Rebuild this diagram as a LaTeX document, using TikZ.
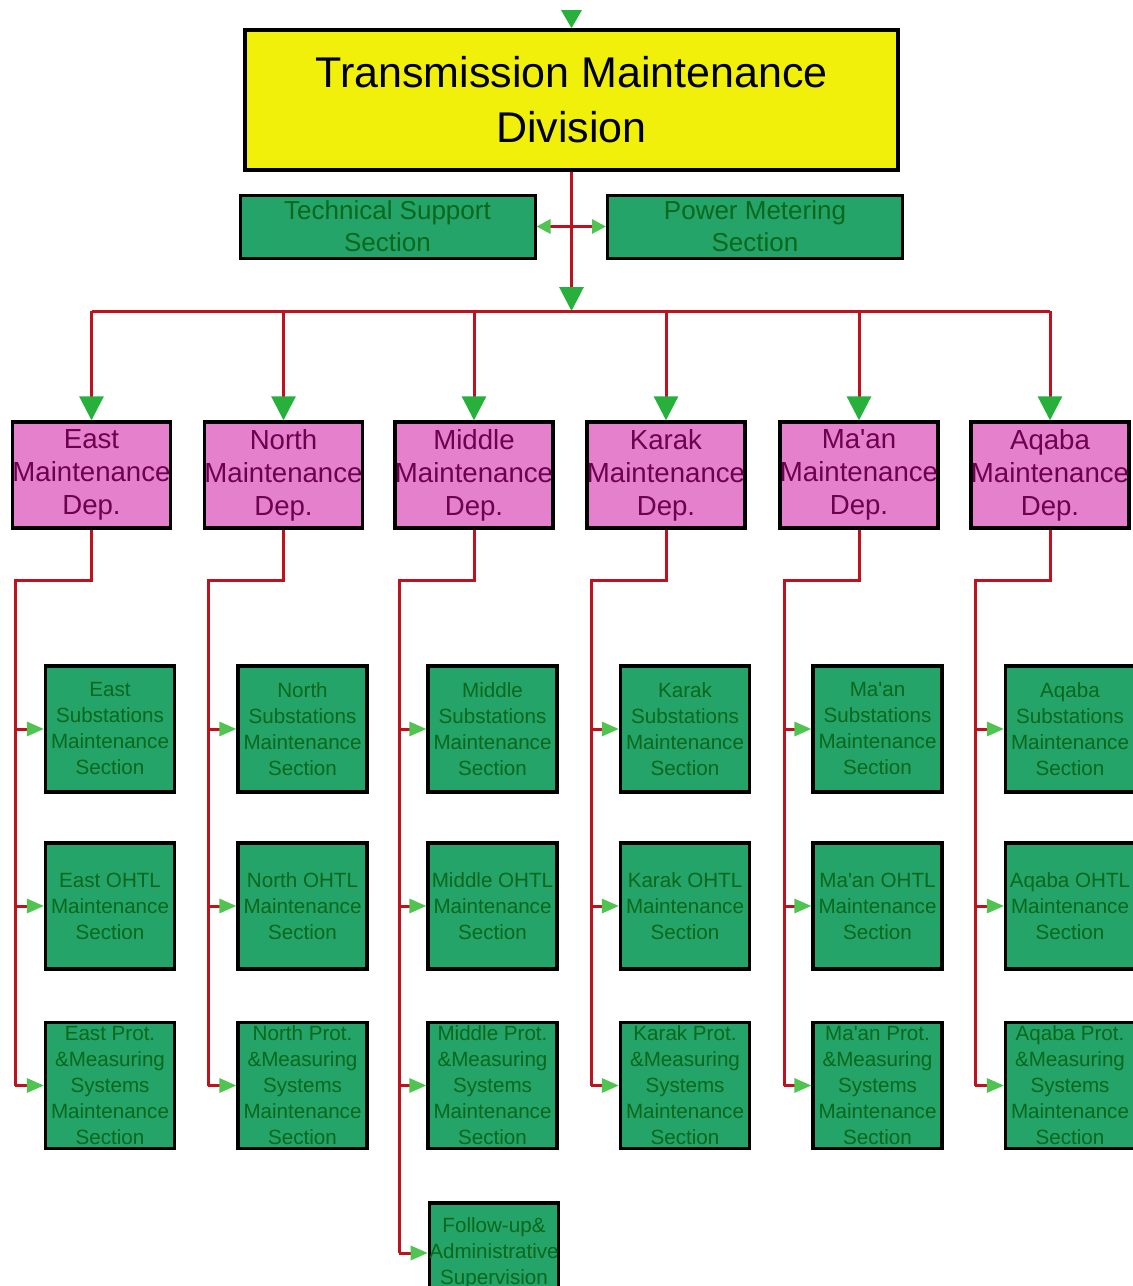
\documentclass[tikz,border=0pt]{standalone}
\usepackage{fontspec}
\setmainfont{Liberation Sans}
\usetikzlibrary{arrows.meta}
\definecolor{titleyellow}{RGB}{240,240,10}
\definecolor{boxgreen}{RGB}{36,164,104}
\definecolor{textgreen}{RGB}{8,104,28}
\definecolor{deptpink}{RGB}{228,128,204}
\definecolor{deptpurple}{RGB}{110,0,80}
\definecolor{linered}{RGB}{190,18,30}
\definecolor{arrowgreen}{RGB}{40,176,60}
\definecolor{lightgreen}{RGB}{80,196,80}
\begin{document}
\begin{tikzpicture}[x=0.5pt,y=-0.5pt,
  titlebox/.style={draw=black, line width=1.8pt, fill=titleyellow, minimum width=326.5pt, minimum height=70pt, inner sep=0pt, align=center, font=\fontsize{21.5}{27.5}\selectfont},
  topsec/.style={draw=black, line width=1.5pt, fill=boxgreen, minimum width=147.5pt, minimum height=31.5pt, inner sep=0pt, align=center, text=textgreen, font=\fontsize{13}{16}\selectfont},
  dept/.style={draw=black, line width=1.7pt, fill=deptpink, minimum width=79pt, minimum height=53pt, inner sep=0pt, align=center, text=deptpurple, font=\fontsize{13.8}{16.5}\selectfont},
  sec/.style={draw=black, line width=1.6pt, fill=boxgreen, minimum width=64.5pt, minimum height=63pt, inner sep=0pt, align=center, text=textgreen, font=\fontsize{10.3}{13}\selectfont},
  redline/.style={draw=linered, line width=1.5pt},
  bigarrow/.style={-{Triangle[length=12pt,width=12pt,color=arrowgreen]}},
  smallarrow/.style={redline, -{Triangle[length=8.5pt,width=7pt,color=lightgreen]}},
  bothsmall/.style={redline, {Triangle[length=7pt,width=7pt,color=lightgreen]}-{Triangle[length=7pt,width=7pt,color=lightgreen]}}
]
\useasboundingbox (0,0) rectangle (1132,1286);
\fill[white] (0,0) rectangle (1132,1286);

% top level
\node[titlebox] (title) at (571.5,100) {Transmission Maintenance\\Division};
\node[topsec] (tech) at (387.5,226.5) {Technical Support\\Section};
\node[topsec] (power) at (755,226.5) {Power Metering\\Section};
\coordinate (topin) at (571.5,10);
\coordinate (bus) at (571.5,311);

% departments and sections
\foreach \k/\nm/\dx/\sx in {E/East/91.5/110, N/North/283.5/302.5, M/Middle/474/492.5, K/Karak/666/685, A/Ma\textquotesingle an/859/877.5, Q/Aqaba/1050/1070} {
  \node[dept] (d\k) at (\dx,475) {\nm\\Maintenance\\Dep.};
  \node[sec] (s\k1) at (\sx,729) {\nm\\Substations\\Maintenance\\Section};
  \node[sec] (s\k2) at (\sx,906) {\nm{} OHTL\\Maintenance\\Section};
  \node[sec] (s\k3) at (\sx,1085.5) {\nm{} Prot.\\\&Measuring\\Systems\\Maintenance\\Section};
}
\node[sec, minimum height=50pt] (sF) at (494,1253) {Follow-up\&\\Administrative\\Supervision};

% connectors at top
\draw[redline, -{Triangle[length=9pt,width=10pt,color=arrowgreen]}] (topin) -- (title.north);
\draw[redline, bigarrow] (title.south) -- (bus);
\draw[bothsmall] (tech.east) -- (power.west);
\draw[redline] (dE.north |- bus) -- (dQ.north |- bus);

% department connectors
\foreach \k/\vx in {E/15, N/208, M/399, K/591, A/784, Q/975} {
  \coordinate (v\k) at (\vx,580);
  \draw[redline, bigarrow] (d\k.north |- bus) -- (d\k.north);
  \draw[redline] (d\k.south) |- (v\k) -- (v\k |- s\k3.west);
  \foreach \j in {1,2,3} \draw[smallarrow] (v\k |- s\k\j.west) -- (s\k\j.west);
}
\draw[redline] (vM |- sM3.west) -- (vM |- sF.west);
\draw[smallarrow] (vM |- sF.west) -- (sF.west);
\end{tikzpicture}
\end{document}
